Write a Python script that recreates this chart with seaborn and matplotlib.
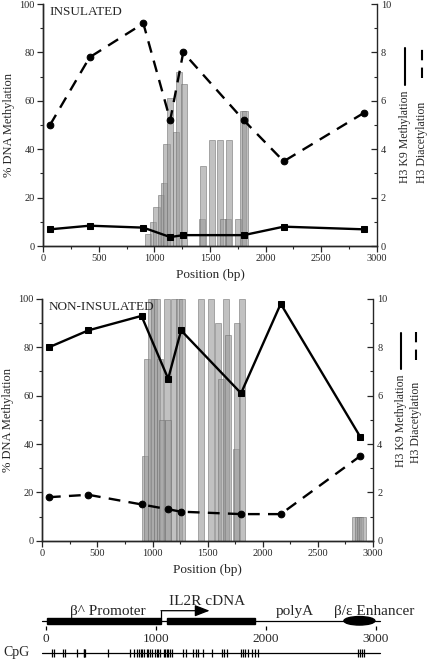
import seaborn as sns
import matplotlib.pyplot as plt
from matplotlib.patches import Rectangle, Ellipse
from matplotlib.lines import Line2D
from matplotlib.ticker import MultipleLocator

# ChIP amplicon positions along the construct (bp)
positions = [60, 417, 900, 1142, 1259, 1803, 2163, 2884]

# insulated construct
ins_k9 = [0.69, 0.84, 0.76, 0.37, 0.45, 0.45, 0.80, 0.69]
ins_diac = [5.0, 7.8, 9.2, 5.2, 8.0, 5.2, 3.5, 5.5]
ins_cpg = [938, 990, 1018, 1055, 1088, 1108, 1140, 1193, 1222, 1268,
           1425, 1435, 1515, 1590, 1615, 1660, 1668, 1750, 1795, 1815]
ins_meth = [5, 10, 16, 21, 26, 42, 61, 47, 72, 67,
            11, 33, 44, 44, 11, 11, 44, 11, 56, 56]

# non-insulated construct
non_k9 = [8.0, 8.7, 9.3, 6.7, 8.7, 6.1, 9.8, 4.3]
non_diac = [1.8, 1.9, 1.5, 1.3, 1.2, 1.1, 1.1, 3.5]
non_cpg = [935, 947, 985, 1012, 1040, 1072, 1090, 1128, 1140, 1197, 1240, 1270,
           1438, 1530, 1595, 1625, 1665, 1685, 1760, 1770, 1815,
           2840, 2860, 2880, 2905]
non_meth = [35, 75, 100, 100, 100, 75, 50, 100, 50, 100, 100, 100,
            100, 100, 90, 67, 100, 85, 38, 90, 100,
            10, 10, 10, 10]

# construct map
cpg_sites = [55, 75, 155, 175, 282, 345, 352, 360, 570, 766, 803, 827, 851, 866,
             879, 894, 918, 933, 948, 969, 994, 1009, 1024, 1039, 1075, 1088,
             1100, 1115, 1130, 1145, 1251, 1273, 1342, 1366, 1388, 1433, 1509,
             1600, 1624, 1648, 1775, 1794, 1812, 1842, 1873, 1903, 1933,
             2842, 2860, 2873, 2894]
promoter = (10, 1048)
cdna = (1106, 1903)
enhancer = (2711, 2993)
tss = 1048
map_ticks = [0, 1000, 2000, 3000]

sns.set_style('ticks')
plt.rcParams['font.family'] = ['Liberation Serif', 'DejaVu Serif']
plt.rcParams['axes.linewidth'] = 1.0

fig = plt.figure(figsize=(4.28, 6.61), dpi=100)

DASH = (0, (5, 3.5))


def panel(rect, cpg, meth, k9, diac, title, leg):
    ax = fig.add_axes(rect)
    ax.bar(cpg, meth, width=55, color='#9c9c9c', alpha=0.62,
           edgecolor='#6e6e6e', linewidth=0.6, zorder=2)
    ax.set_xlim(0, 3000)
    ax.set_ylim(0, 100)
    ax.xaxis.set_major_locator(MultipleLocator(500))
    ax.xaxis.set_minor_locator(MultipleLocator(250))
    ax.yaxis.set_major_locator(MultipleLocator(20))
    ax.yaxis.set_minor_locator(MultipleLocator(10))
    ax.tick_params(which='major', direction='out', length=4, width=0.9,
                   labelsize=7.5, pad=2)
    ax.tick_params(which='minor', direction='out', length=2.5, width=0.8)
    ax.set_xlabel('Position (bp)', fontsize=9.5, labelpad=4)
    ax.set_ylabel('% DNA Methylation', fontsize=9, labelpad=3)
    ax.spines['top'].set_visible(False)
    ax.spines['right'].set_visible(False)
    ax.text(0.018, 0.99, title, transform=ax.transAxes, fontsize=9.5,
            ha='left', va='top')

    ax2 = ax.twinx()
    sns.lineplot(x=positions, y=k9, ax=ax2, color='k', marker='s',
                 markersize=4.8, markeredgecolor='k', linewidth=1.7,
                 sort=False, errorbar=None)
    sns.lineplot(x=positions, y=diac, ax=ax2, color='k', marker='o',
                 markersize=4.8, markeredgecolor='k', linewidth=1.7,
                 linestyle=DASH, sort=False, errorbar=None)
    ax2.set_ylim(0, 10)
    ax2.set_ylabel('')
    ax2.yaxis.set_major_locator(MultipleLocator(2))
    ax2.yaxis.set_minor_locator(MultipleLocator(1))
    ax2.tick_params(which='major', direction='in', length=4, width=0.9,
                    labelsize=7.5, pad=3)
    ax2.tick_params(which='minor', direction='in', length=2.5, width=0.8)
    ax2.spines['top'].set_visible(False)

    # rotated legend-style labels on the right
    (xk, yk, lk), (xd, yd, ld) = leg
    ax2.text(xk, yk, 'H3 K9 Methylation', transform=ax2.transAxes,
             rotation=90, ha='center', va='bottom', fontsize=8.5)
    ax2.text(xd, yd, 'H3 Diacetylation', transform=ax2.transAxes,
             rotation=90, ha='center', va='bottom', fontsize=8.5)
    ax2.add_line(Line2D([xk, xk], lk, transform=ax2.transAxes, color='k',
                        lw=1.5, clip_on=False))
    ax2.add_line(Line2D([xd, xd], ld, transform=ax2.transAxes, color='k',
                        lw=1.5, ls=DASH, clip_on=False))
    return ax, ax2


panel([0.1012, 0.6278, 0.7790, 0.3661], ins_cpg, ins_meth, ins_k9, ins_diac,
      'INSULATED',
      ((1.085, 0.26, (0.665, 0.818)), (1.136, 0.26, (0.694, 0.818))))
panel([0.0988, 0.1820, 0.7727, 0.3657], non_cpg, non_meth, non_k9, non_diac,
      'NON-INSULATED',
      ((1.085, 0.305, (0.712, 0.859)), (1.131, 0.32, (0.748, 0.864))))

# construct map
axm = fig.add_axes([0, 0, 1, 71 / 661])
axm.set_xlim(-415.5, 3475.5)
axm.set_ylim(0, 71)
axm.axis('off')

axm.plot([-36, 3040], [40, 40], color='k', lw=0.9)
for s, e in (promoter, cdna):
    axm.add_patch(Rectangle((s, 37.5), e - s, 6, color='k'))
axm.add_patch(Ellipse(((enhancer[0] + enhancer[1]) / 2, 40.2),
                      enhancer[1] - enhancer[0], 8.5, color='k'))
axm.plot([tss, tss], [43.5, 50.3], color='k', lw=0.9)
axm.annotate('', xy=(1490, 50.3), xytext=(tss, 50.3),
             arrowprops=dict(arrowstyle='-|>,head_length=0.9,head_width=0.35',
                             color='k', lw=0.9, shrinkA=0, shrinkB=0))

axm.text(566, 46, 'β^ Promoter', ha='center', va='baseline', fontsize=11)
axm.text(1463, 56, 'IL2R cDNA', ha='center', va='baseline', fontsize=11)
axm.text(2266, 46, 'polyA', ha='center', va='baseline', fontsize=11)
axm.text(2985, 46, 'β/ε Enhancer', ha='center', va='baseline', fontsize=11)

axm.plot(map_ticks, [33.3] * len(map_ticks), ls='none', marker='|',
         color='k', markersize=3, mew=0.9)
for t in map_ticks:
    axm.text(t, 18.5, str(t), ha='center', va='baseline', fontsize=9.5)

axm.plot([-36, 3040], [8.5, 8.5], color='k', lw=0.9)
axm.vlines(cpg_sites, 4.5, 12.5, color='k', lw=0.9)
axm.text(-385, 5, 'CpG', ha='left', va='baseline', fontsize=10)

fig.savefig('out.png', dpi=100)
